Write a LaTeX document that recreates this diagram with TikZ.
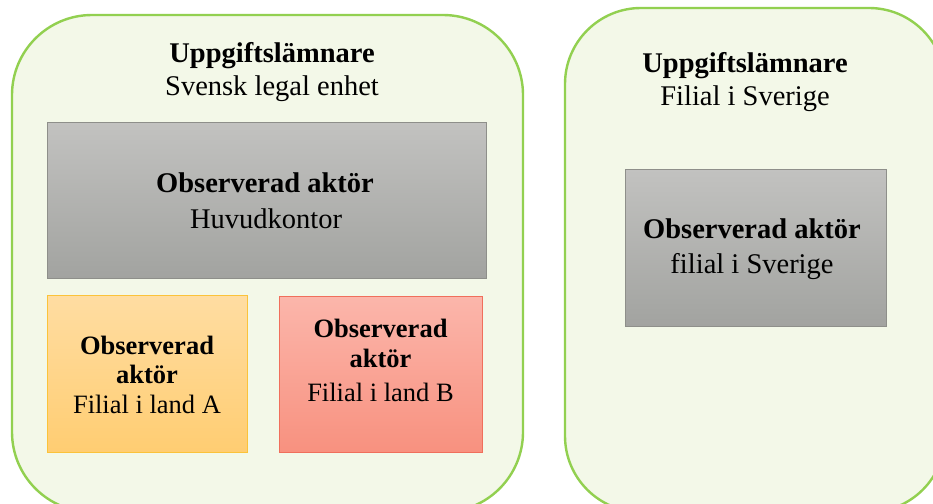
\documentclass[tikz,border=0pt]{standalone}
\usepackage{fontspec}
\setmainfont{Liberation Serif}
\definecolor{gfill}{HTML}{F3F8E8}
\definecolor{gline}{HTML}{92D050}
\definecolor{graytop}{HTML}{C2C2C0}
\definecolor{graybot}{HTML}{A2A3A0}
\definecolor{grayline}{HTML}{8E8F8A}
\definecolor{orangetop}{HTML}{FFDDA2}
\definecolor{orangebot}{HTML}{FFCD72}
\definecolor{orangeline}{HTML}{FBC33A}
\definecolor{redtop}{HTML}{FBB6AB}
\definecolor{redbot}{HTML}{F8917F}
\definecolor{redline}{HTML}{F06F5C}
\begin{document}
\begin{tikzpicture}[x=1pt,y=-1pt,
  outerbox/.style={draw=gline, fill=gfill, line width=2.4pt, inner sep=0pt, outer sep=0pt},
  graybox/.style={draw=grayline, line width=0.9pt, top color=graytop, bottom color=graybot, inner sep=0pt},
  orangebox/.style={draw=orangeline, line width=0.9pt, top color=orangetop, bottom color=orangebot, inner sep=0pt},
  redbox/.style={draw=redline, line width=0.9pt, top color=redtop, bottom color=redbot, inner sep=0pt},
  bigb/.style={anchor=base, inner sep=0pt, font=\fontsize{28.5}{32}\selectfont\bfseries},
  bigr/.style={anchor=base, inner sep=0pt, font=\fontsize{28.5}{32}\selectfont},
  smb/.style={anchor=base, inner sep=0pt, font=\fontsize{26.5}{29}\selectfont\bfseries},
  smr/.style={anchor=base, inner sep=0pt, font=\fontsize{26.5}{29}\selectfont}]
\clip (0,0) rectangle (933,503);
\fill[white] (0,0) rectangle (933,503);
% outer containers
\node[outerbox, minimum width=511pt, minimum height=497pt, rounded corners=80pt] (left) at (267.5,263.5) {};
\node[outerbox, minimum width=380pt, minimum height=504pt, rounded corners=76pt] (right) at (755,260) {};
% inner boxes
\node[graybox, minimum width=439pt, minimum height=156pt] (hq) at (266.5,200) {};
\node[orangebox, minimum width=200pt, minimum height=157pt] (fa) at (147,373.5) {};
\node[redbox, minimum width=203pt, minimum height=156pt] (fb) at (380.5,374) {};
\node[graybox, minimum width=261pt, minimum height=157pt] (fs) at (755.5,247.5) {};
% titles
\node[bigb] (t1) at (272,63) {Uppgiftslämnare};
\node[bigr] (t2) at (272,95) {Svensk legal enhet};
\node[bigb] (t3) at (745,72) {Uppgiftslämnare};
\node[bigr] (t4) at (745,105) {Filial i Sverige};
% head office
\node[bigb] (hq1) at (265,192) {Observerad aktör};
\node[bigr] (hq2) at (266,228) {Huvudkontor};
% Swedish branch
\node[bigb] (fs1) at (752,238) {Observerad aktör};
\node[bigr] (fs2) at (752,273) {filial i Sverige};
% branch A
\node[smb] (fa1) at (147,354) {Observerad};
\node[smb] (fa2) at (147,383) {aktör};
\node[smr] (fa3) at (147,413) {Filial i land A};
% branch B
\node[smb] (fb1) at (380.5,337) {Observerad};
\node[smb] (fb2) at (380.5,367) {aktör};
\node[smr] (fb3) at (380.5,401) {Filial i land B};
\end{tikzpicture}
\end{document}
